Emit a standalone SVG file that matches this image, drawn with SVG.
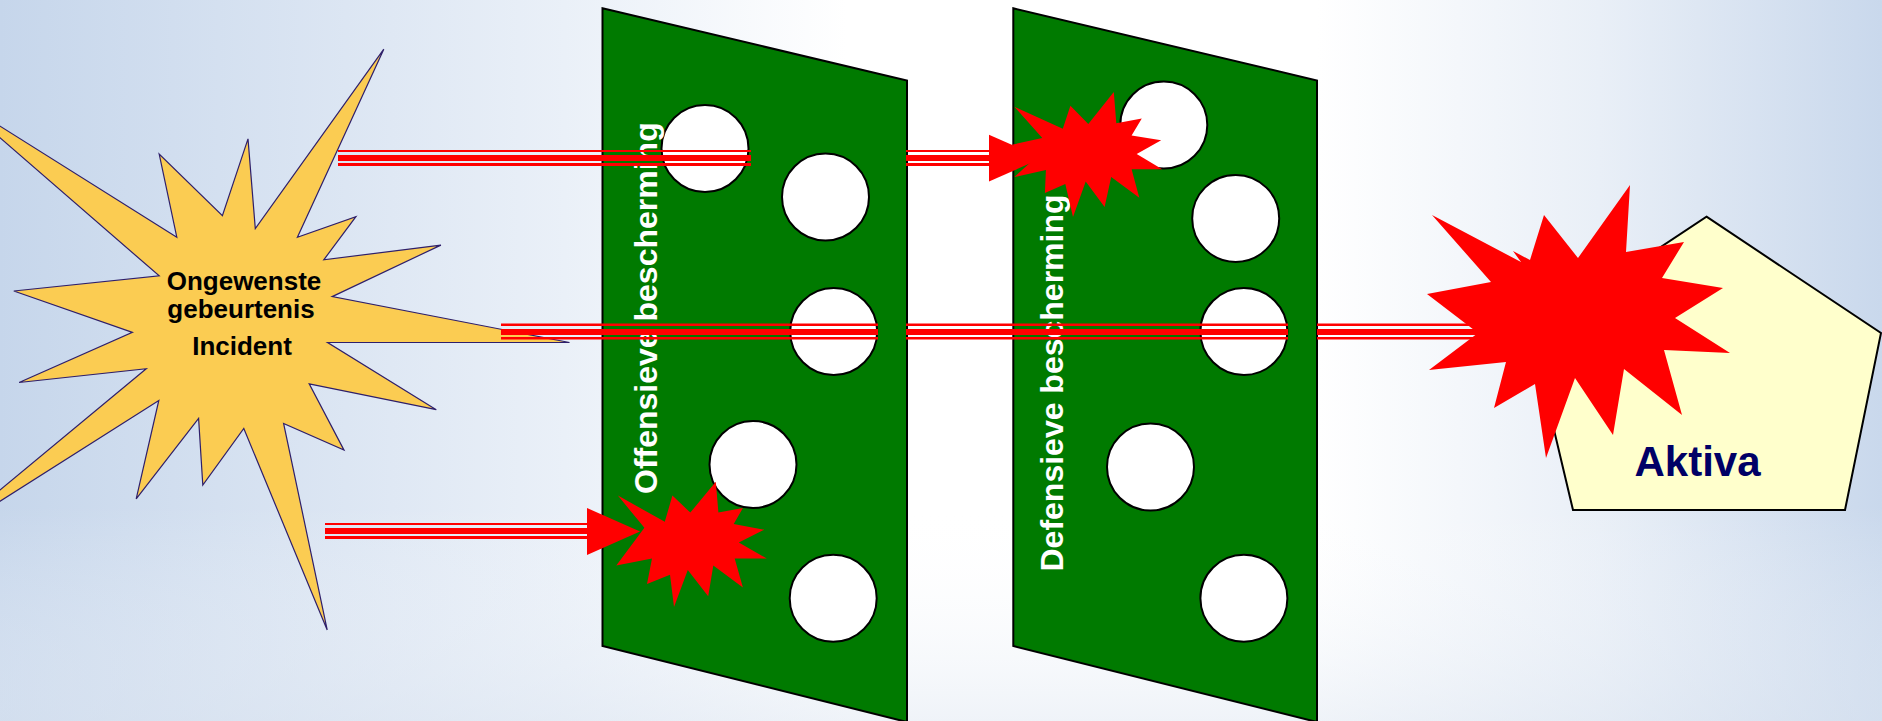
<svg xmlns="http://www.w3.org/2000/svg" width="1882" height="721" viewBox="0 0 1882 721">
  <defs>
    <linearGradient id="bg" x1="0" y1="0" x2="1" y2="0">
      <stop offset="0" stop-color="#c6d6eb"/>
      <stop offset="0.3" stop-color="#eaf0f8"/>
      <stop offset="0.45" stop-color="#ffffff"/>
      <stop offset="0.7" stop-color="#ffffff"/>
      <stop offset="0.85" stop-color="#e9eff7"/>
      <stop offset="1" stop-color="#c9d8ec"/>
    </linearGradient>
    <linearGradient id="bgv" x1="0" y1="0" x2="0" y2="1">
      <stop offset="0" stop-color="#ffffff" stop-opacity="0"/>
      <stop offset="0.7" stop-color="#ffffff" stop-opacity="0"/>
      <stop offset="1" stop-color="#dfe7f2" stop-opacity="0.5"/>
    </linearGradient>
    <linearGradient id="stripes" x1="0" y1="0" x2="0" y2="1">
      <stop offset="0" stop-color="#ff0000"/>
      <stop offset="0.14" stop-color="#ff0000"/>
      <stop offset="0.14" stop-color="#ffffff" stop-opacity="0"/>
      <stop offset="0.33" stop-color="#ffffff" stop-opacity="0"/>
      <stop offset="0.33" stop-color="#ff0000"/>
      <stop offset="0.69" stop-color="#ff0000"/>
      <stop offset="0.69" stop-color="#ffffff" stop-opacity="0"/>
      <stop offset="0.84" stop-color="#ffffff" stop-opacity="0"/>
      <stop offset="0.84" stop-color="#ff0000"/>
      <stop offset="1" stop-color="#ff0000"/>
    </linearGradient>
  </defs>
  <style>
    .panel { fill: #007a00; stroke: #000000; stroke-width: 2; }
    .hole { fill: #ffffff; stroke: #000000; stroke-width: 2; }
    .ptext { fill: #ffffff; font-family: "Liberation Sans", Arial, sans-serif; font-weight: bold; font-size: 32px; }
    .stext { fill: #000000; font-family: "Liberation Sans", Arial, sans-serif; font-weight: bold; font-size: 26px; text-anchor: middle; }
    .band { fill: url(#stripes); }
    .head { fill: #ff0000; }
    .burst { fill: #ff0000; }
  </style>
  <rect x="0" y="0" width="1882" height="721" fill="url(#bg)"/>
  <rect x="0" y="0" width="1882" height="721" fill="url(#bgv)"/>

  <g id="incident">
    <polygon fill="#fbcc52" stroke="#2e1f6b" stroke-width="1.2" points="383.8,49.2 297.4,237.2 355.9,216.6 323.8,259.8 440.9,245.1 332.2,296.6 569.5,342.5 327.6,342.5 436.3,409.7 309.2,383.9 344,450.1 283.6,423.4 327.2,629.9 243.8,428.5 202.8,485.1 198.6,418.4 136.2,498.9 158.8,400.5 -58,538 146.2,368.7 19.1,382.5 132.4,332.4 13.8,291 159.2,275.9 -48,96 176.8,237.2 159.2,154 222.4,215.6 248,138.9 255.3,228.5"/>
    <text class="stext" x="244" y="290">Ongewenste</text>
    <text class="stext" x="241" y="318">gebeurtenis</text>
    <text class="stext" x="242" y="355">Incident</text>
  </g>

  <g id="offensieve-bescherming">
    <polygon class="panel" points="602.5,8.3 907,80.5 907,722 602.5,646"/>
    <ellipse class="hole" cx="705" cy="148.5" rx="43.5" ry="43.5"/>
    <ellipse class="hole" cx="825.5" cy="197" rx="43.5" ry="43.5"/>
    <ellipse class="hole" cx="833.7" cy="331.5" rx="43.5" ry="43.5"/>
    <ellipse class="hole" cx="753" cy="464.5" rx="43.5" ry="43.5"/>
    <ellipse class="hole" cx="833.2" cy="598.2" rx="43.5" ry="43.5"/>
    <text class="ptext" transform="translate(657,494) rotate(-90)">Offensieve bescherming</text>
  </g>

  <g id="defensieve-bescherming">
    <polygon class="panel" points="1013.3,8.3 1317,80.5 1317,722 1013.3,646"/>
    <ellipse class="hole" cx="1163.8" cy="125" rx="43.5" ry="43.5"/>
    <ellipse class="hole" cx="1235.7" cy="218.4" rx="43.5" ry="43.5"/>
    <ellipse class="hole" cx="1243.9" cy="331.5" rx="43.5" ry="43.5"/>
    <ellipse class="hole" cx="1150.5" cy="467" rx="43.5" ry="43.5"/>
    <ellipse class="hole" cx="1243.9" cy="598.2" rx="43.5" ry="43.5"/>
    <text class="ptext" transform="translate(1063,571.5) rotate(-90)">Defensieve bescherming</text>
  </g>

  <g id="aktiva">
    <polygon fill="#ffffcc" stroke="#000000" stroke-width="2" points="1706.5,216.7 1881,333 1845,510 1573,510 1531,333"/>
    <text x="1697.5" y="476" fill="#000066" font-family="Liberation Sans, Arial, sans-serif" font-weight="bold" font-size="42" text-anchor="middle">Aktiva</text>
  </g>

  <g id="connectors">
    <rect class="band" x="338" y="150" width="413" height="16"/>
    <rect class="band" x="906" y="150" width="84" height="16"/>
    <polygon class="head" points="989,134.7 1042,158 989,181.6"/>
    <rect class="band" x="501" y="323.5" width="377" height="16"/>
    <rect class="band" x="906" y="323.5" width="382" height="16"/>
    <rect class="band" x="1317" y="323.5" width="170" height="16"/>
    <rect class="band" x="325" y="523" width="263" height="16"/>
    <polygon class="head" points="587,508 640,531.5 587,555"/>
  </g>

  <g id="impacts">
    <polygon class="burst" points="1113.8,92 1088.3,124.1 1070.4,105.7 1062.8,128.7 1014.3,106.7 1042.3,137.9 1011.7,144.8 1034.7,158.6 1014.3,177 1045.9,170.1 1044.9,193.1 1065.3,183.9 1073,217 1085.7,181.6 1104.6,206.9 1111.2,177 1139.3,197.7 1131.6,169.2 1162.2,169.2 1136.7,154 1161.2,140.2 1131.6,135.6 1141.8,118.6 1116.3,123.2"/>
    <polygon class="burst" points="715.8,481.8 690.3,512.6 672.4,495.6 664.8,521.8 617.9,495.6 644.4,527.8 616.3,565.5 652,558.6 647,583.9 670,574.7 674,606.9 687.8,570.1 708.2,596.3 713.3,565.5 742.9,587.6 734.7,558.6 766.8,558.6 738.8,542.5 764.3,529.7 733.7,524.1 742.9,508 718.4,512.6"/>
    <polygon class="burst" points="1630,185 1578,258 1544,215 1530,260 1513,251 1521,262 1432,215 1491,282 1427,294 1478,333 1429,370 1506,362 1494,408 1535,384 1546,458 1575,378 1613,435 1624,369 1682,415 1664,350 1730,353 1675,318 1723,288 1662,278 1684,242 1626,252"/>
  </g>
</svg>
